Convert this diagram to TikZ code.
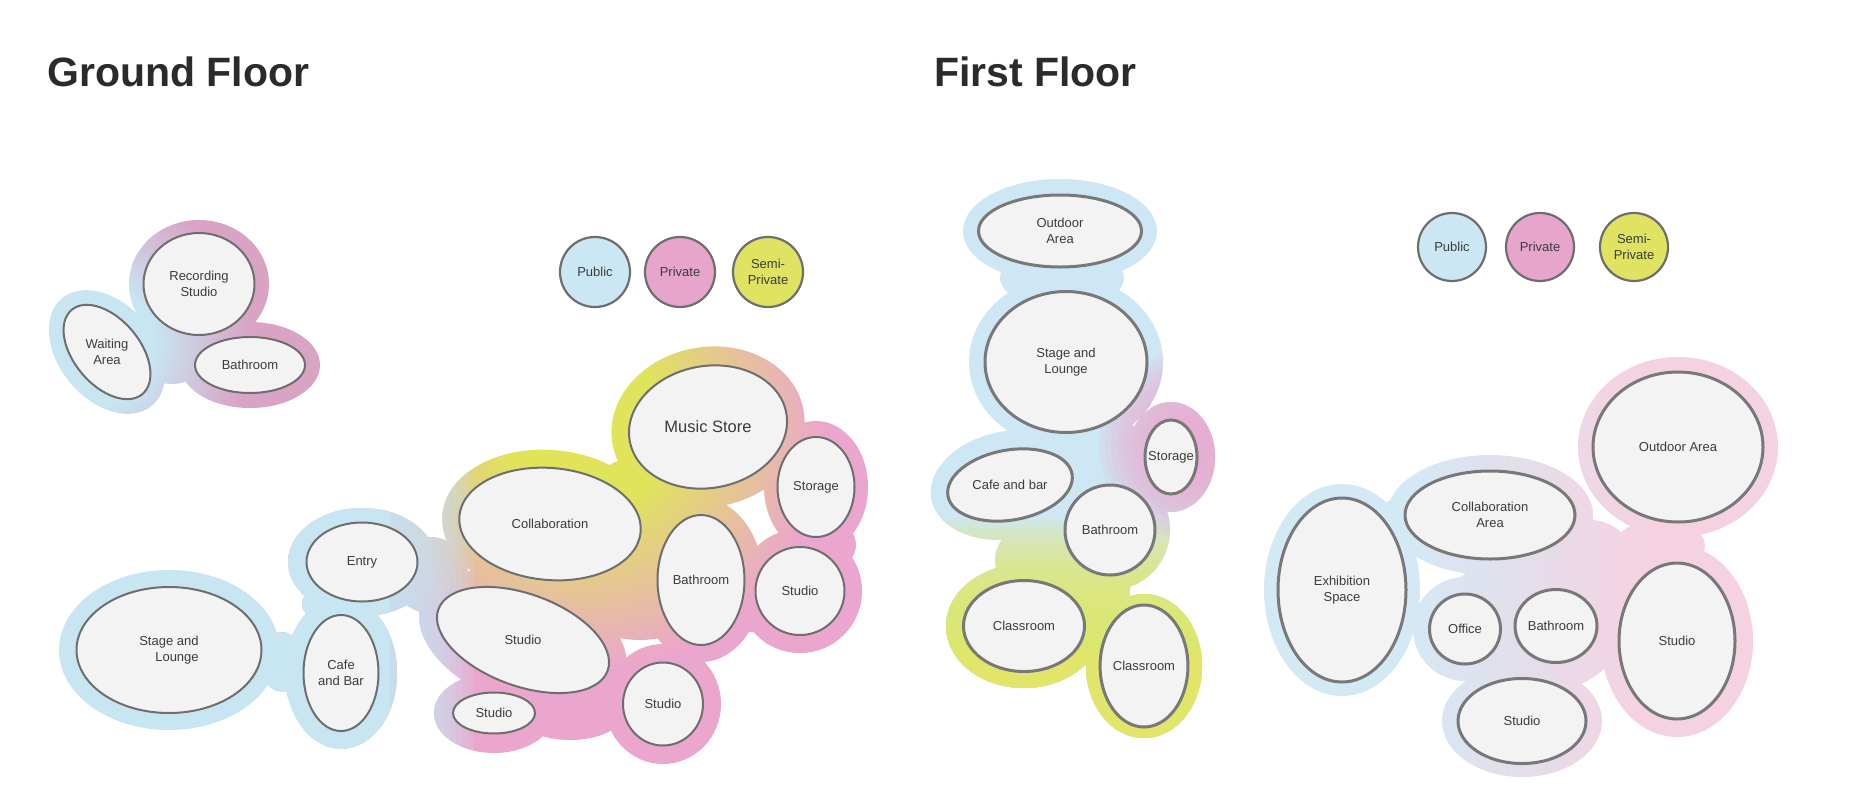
\documentclass[tikz,border=0pt]{standalone}
\usepackage{fontspec}
\setmainfont{Liberation Sans}
\usepackage{xcolor}
\usepackage{tikz}
\usetikzlibrary{shapes.geometric,backgrounds}

\definecolor{roomfill}{HTML}{F3F3F3}
\definecolor{roomline}{HTML}{6E6E6E}
\definecolor{froomline}{HTML}{787878}
\definecolor{labeltext}{HTML}{3C3C3C}
\definecolor{titletext}{HTML}{2B2B2B}
\definecolor{pubblue}{HTML}{CCE7F4}
\definecolor{privpink}{HTML}{E7A5CC}
\definecolor{semiyel}{HTML}{DFE361}
\definecolor{gblue}{HTML}{C8E5F2}
\definecolor{gpink}{HTML}{EBA6CD}
\definecolor{gyellow}{HTML}{DFE45B}
\definecolor{mauve}{HTML}{D9A3C4}
\definecolor{fblue}{HTML}{CDE8F4}
\definecolor{fpink}{HTML}{EDA8CF}
\definecolor{fyellow}{HTML}{E1E66A}
\definecolor{lblue}{HTML}{D3EAF5}
\definecolor{lpink}{HTML}{F5D2E2}
\definecolor{lmid}{HTML}{EEF1F5}

\pgfdeclareradialshading{gaShade}{\pgfpointorigin}{color(0bp)=(gblue); color(5bp)=(gblue); color(13bp)=(mauve); color(50bp)=(mauve)}
\pgfdeclareradialshading{gbShade}{\pgfpointorigin}{color(0bp)=(gyellow); color(5bp)=(gyellow); color(15bp)=(gpink); color(50bp)=(gpink)}

\begin{document}
\begin{tikzpicture}[x=1pt, y=-1pt,
  dims/.style 2 args={minimum width=#1, minimum height=#2},
  room/.style={ellipse, fill=roomfill, inner sep=0pt, text=labeltext, font=\fontsize{13}{15.5}\selectfont, align=center},
  groom/.style={room, draw=roomline, line width=2},
  froom/.style={room, draw=froomline, line width=3},
  lbl/.style={inner sep=0pt, text=labeltext, font=\fontsize{13}{15.5}\selectfont, align=center},
  key/.style={circle, draw=roomline, line width=2.2, minimum size=#1, inner sep=0pt, text=labeltext, font=\fontsize{13}{15.5}\selectfont, align=center},
  title/.style={anchor=base west, inner sep=0pt, text=titletext, font=\fontsize{41}{49}\selectfont\bfseries}
]
\useasboundingbox (0,0) rectangle (1864,804);

\node[title] (gtitle) at (47,86) {Ground Floor};
\node[title] (ftitle) at (934,86) {First Floor};

\node[groom, dims={111}{102}] (grec) at (199,284) {Recording\\Studio};
\node[groom, dims={110}{66}, rotate=-50] (gwait) at (107,352) {};
\node[lbl] (gwaitT) at (gwait.center) {Waiting\\Area};
\node[groom, dims={110}{56}] (gbathA) at (250,365) {Bathroom};

\node[groom, dims={185}{126}, align=left] (gstage) at (169,650) {Stage and\\\hspace*{16pt}Lounge};
\node[groom, dims={111}{79}] (gentry) at (362,562) {Entry};
\node[groom, dims={75}{116}] (gcafe) at (341,673) {Cafe\\and Bar};
\node[groom, dims={182}{112}, rotate=-5] (gcollab) at (550,524) {};
\node[lbl] (gcollabT) at (gcollab.center) {Collaboration};
\node[groom, dims={180}{92}, rotate=-20] (gstudA) at (523,640) {};
\node[lbl] (gstudAT) at (gstudA.center) {Studio};
\node[groom, dims={82}{41}] (gstudB) at (494,713) {Studio};
\node[groom, dims={159}{122}, rotate=10] (gmusic) at (708,427) {};
\node[lbl, font=\fontsize{16.5}{19}\selectfont] (gmusicT) at (gmusic.center) {Music Store};
\node[groom, dims={77}{100}] (gstor) at (816,487) {Storage};
\node[groom, dims={87}{130}] (gbathB) at (701,580) {Bathroom};
\node[groom, dims={89}{88}] (gstudC) at (800,591) {Studio};
\node[groom, dims={80}{83}] (gstudD) at (663,704) {Studio};

\node[key=70, fill=pubblue] (gpub) at (595,272) {Public};
\node[key=70, fill=privpink] (gpriv) at (680,272) {Private};
\node[key=70, fill=semiyel] (gsemi) at (768,272) {Semi-\\Private};

\node[froom, dims={163}{72}] (fout) at (1060,231) {Outdoor\\Area};
\node[froom, dims={162}{141}] (fstage) at (1066,362) {Stage and\\Lounge};
\node[froom, dims={52}{74}] (fstor) at (1171,457) {\makebox[0pt]{Storage}};
\node[froom, dims={126}{70}, rotate=10] (fcafe) at (1010,485) {};
\node[lbl] (fcafeT) at (fcafe.center) {Cafe and bar};
\node[froom, dims={90}{90}] (fbathA) at (1110,530) {Bathroom};
\node[froom, dims={121}{91}] (fclassA) at (1024,626) {Classroom};
\node[froom, dims={82}{122}] (fclassB) at (1144,666) {Classroom};

\node[froom, dims={170}{150}] (fout2) at (1678,447) {Outdoor Area};
\node[froom, dims={170}{88}] (fcollab) at (1490,515) {Collaboration\\Area};
\node[froom, dims={128}{184}] (fexh) at (1342,590) {Exhibition\\Space};
\node[froom, dims={71}{70}] (foff) at (1465,629) {Office};
\node[froom, dims={82}{73}] (fbathB) at (1556,626) {Bathroom};
\node[froom, dims={116}{156}] (fstudA) at (1677,641) {Studio};
\node[froom, dims={128}{85}] (fstudB) at (1522,721) {Studio};

\node[key=68, fill=pubblue] (fpub) at (1452,247) {Public};
\node[key=68, fill=privpink] (fpriv) at (1540,247) {Private};
\node[key=68, fill=semiyel] (fsemi) at (1634,247) {Semi-\\Private};

\begin{pgfonlayer}{background}
\fill[white] (0,0) rectangle (1864,804);

\begin{scope}
\clip (grec.center) circle[x radius=70, y radius=64]
  (gwait.center) circle[x radius=70, y radius=48, rotate=-50]
  (gbathA.center) circle[x radius=70, y radius=43]
  (172,342) circle[radius=42];
\shade[shading=gaShade] (95,345) circle (300);
\end{scope}

\begin{scope}
\clip (gstage.center) circle[x radius=110, y radius=80]
  (gentry.center) circle[x radius=74, y radius=54]
  (gcafe.center) circle[x radius=56, y radius=76]
  (282,662) circle[x radius=22, y radius=30]
  (316,604) circle[radius=14]
  (430,575) circle[radius=38]
  (gcollab.center) circle[x radius=108, y radius=74, rotate=-5]
  (gstudA.center) circle[x radius=108, y radius=64, rotate=-20]
  (gstudB.center) circle[x radius=60, y radius=40]
  (570,712) circle[x radius=55, y radius=28]
  (gmusic.center) circle[x radius=97, y radius=80, rotate=10]
  (624,482) circle[radius=22]
  (gstor.center) circle[x radius=52, y radius=66]
  (834,545) circle[radius=22]
  (gbathB.center) circle[x radius=62, y radius=82]
  (gstudC.center) circle[x radius=62, y radius=62]
  (752,612) circle[radius=20]
  (gstudD.center) circle[x radius=58, y radius=60]
  (640,560) circle[x radius=90, y radius=80];
\shade[shading=gbShade] (585,430) circle (400);
\fill[gblue] (40,330) rectangle (390,790);
\foreach \x in {396,402,...,474}
  \fill[gblue, fill opacity=0.16] (380,330) rectangle (\x,790);
\end{scope}

\begin{scope}
\clip (fout.center) circle[x radius=97, y radius=52]
  (fstage.center) circle[x radius=97, y radius=86]
  (1062,278) circle[x radius=62, y radius=30]
  (fstor.center) circle[x radius=44, y radius=55]
  (fcafe.center) circle[x radius=80, y radius=54, rotate=10]
  (fbathA.center) circle[radius=60]
  (1110,470) circle[radius=50]
  (fclassA.center) circle[x radius=78, y radius=62]
  (fclassB.center) circle[x radius=58, y radius=72]
  (1045,560) circle[x radius=50, y radius=40]
  (1095,588) circle[radius=35];
\fill[fblue] (900,170) rectangle (1230,750);
\foreach \y in {520,528,...,640}
  \fill[fyellow, fill opacity=0.16] (900,\y) rectangle (1230,750);
\fill[fyellow] (900,650) rectangle (1230,750);
\foreach \r in {24,30,...,96}
  \fill[fpink, fill opacity=0.14] (1195,445) circle (\r);
\end{scope}

\begin{scope}
\clip (fexh.center) circle[x radius=78, y radius=106]
  (fcollab.center) circle[x radius=103, y radius=60]
  (fout2.center) circle[x radius=100, y radius=90]
  (foff.center) circle[radius=52]
  (fbathB.center) circle[x radius=60, y radius=55]
  (fstudA.center) circle[x radius=76, y radius=96]
  (fstudB.center) circle[x radius=80, y radius=56]
  (1530,625) circle[x radius=95, y radius=70]
  (1400,522) circle[radius=24]
  (1590,565) circle[radius=45]
  (1660,545) circle[x radius=45, y radius=25];
\fill[lblue] (1250,340) rectangle (1400,790);
\shade[left color=lblue, middle color=lmid, right color=lpink] (1400,340) rectangle (1640,790);
\fill[lpink] (1640,340) rectangle (1790,790);
\end{scope}
\end{pgfonlayer}
\end{tikzpicture}
\end{document}
